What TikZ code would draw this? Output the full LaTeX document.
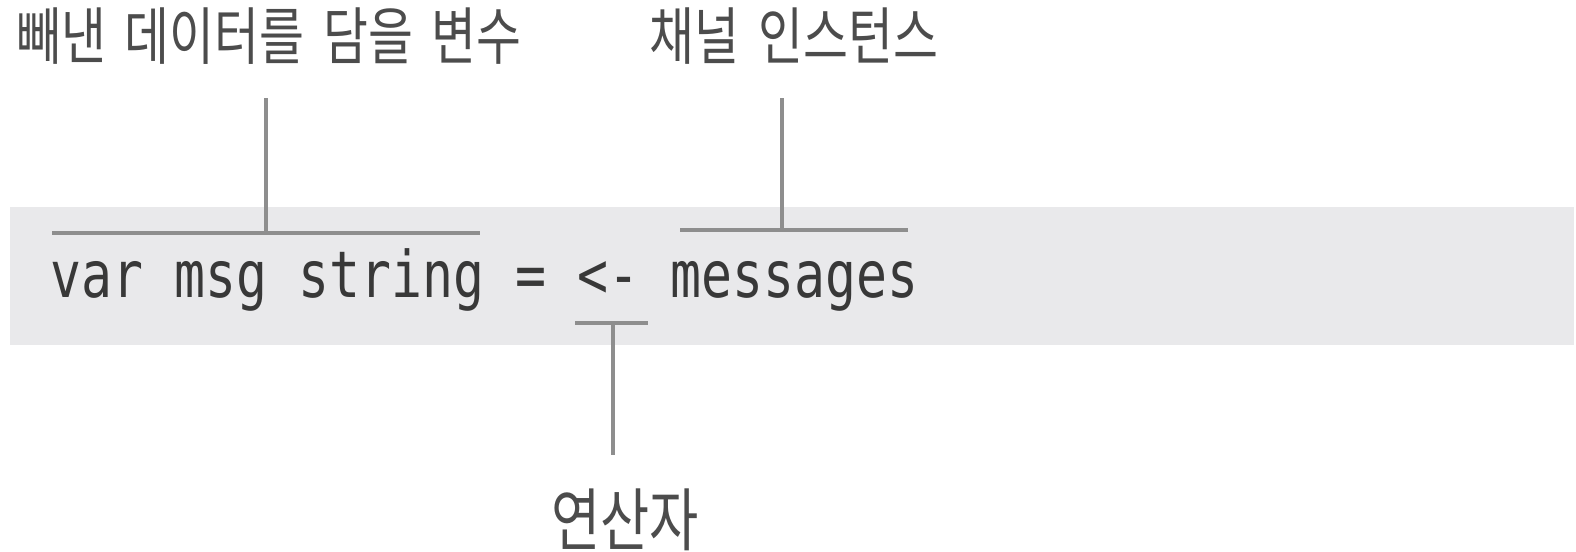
\documentclass[tikz,border=0pt]{standalone}
\usepackage{fontspec}
\newfontfamily\codefont[FakeStretch=0.8,Ligatures=NoCommon]{DejaVu Sans Mono}
\newfontfamily\kofont[FakeStretch=0.78,WordSpace=1.7]{Noto Sans CJK KR}
\definecolor{bandgray}{HTML}{E9E9EB}
\definecolor{brkgray}{HTML}{8E8E8E}
\definecolor{inkgray}{HTML}{383838}
\tikzset{
  code/.style={inner sep=0pt,text=inkgray,font=\codefont\fontsize{18.3pt}{20pt}\selectfont},
  lbl/.style={inner sep=0pt,text=inkgray!90,font=\kofont\fontsize{17.8pt}{20pt}\selectfont},
  brk/.style={draw=brkgray,line width=1pt}
}
\begin{document}
\begin{tikzpicture}[x=0.01cm,y=-0.01cm]
		\useasboundingbox (0,0) rectangle (1576,552);
		%band
		\fill[bandgray] (10,207) rectangle (1574,345);
		%code
		\node[code,anchor=base west] (code) at (50,298) {var msg string = <- messages};
		%labels
		\node[lbl] (var) at (269,36) {빼낸 데이터를 담을 변수};
		\node[lbl] (chan) at (794,36) {채널 인스턴스};
		\node[lbl,font=\kofont\fontsize{19.5pt}{22pt}\selectfont] (op) at (625,520) {연산자};
		%brackets
		\foreach \Nom/\Xa/\Xb/\Xm/\Ya/\Yb in {var/52/480/266/233/98,chan/680/908/782/230/98,op/575/648/613/323/455}{%
		\coordinate (\Nom-l) at (\Xa,\Ya);
		\coordinate (\Nom-r) at (\Xb,\Ya);
		\coordinate (\Nom-m) at (\Xm,\Ya);
		\coordinate (\Nom-t) at (\Xm,\Yb);
		\draw[brk] (\Nom-l)--(\Nom-r) (\Nom-m)--(\Nom-t) ;
		}
	\end{tikzpicture}
\end{document}
